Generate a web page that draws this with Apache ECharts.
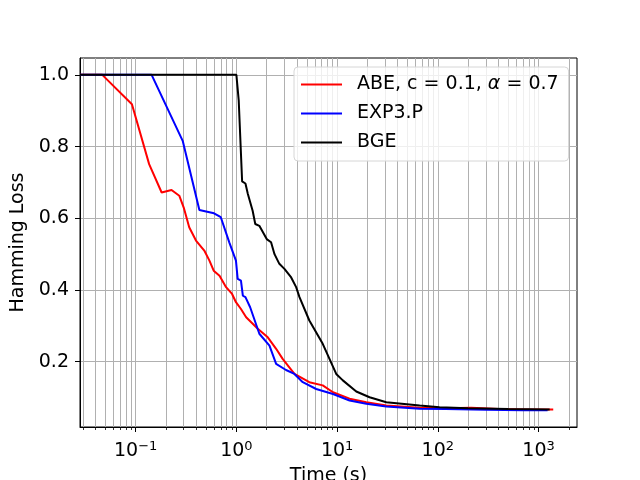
<!DOCTYPE html>
<html>
<head>
<meta charset="utf-8">
<script src="https://cdn.jsdelivr.net/npm/echarts@6/dist/echarts.min.js"></script>
<style>
  html, body { margin: 0; padding: 0; background: #fff; }
  #chart { width: 640px; height: 480px; }
</style>
</head>
<body>
<div id="chart"></div>
<script>
// values
var abeTime = [0.028, 0.0466, 0.0918, 0.136, 0.181, 0.227, 0.271, 0.30, 0.34, 0.397, 0.48, 0.54, 0.595, 0.68, 0.79, 0.906, 0.99, 1.11, 1.25, 1.63, 2.05, 2.48, 2.88, 3.77, 5.3, 7.2, 9.1, 13.3, 19.5, 30.8, 66, 120, 215, 400, 800, 1400];
var abeLoss = [1.0, 1.0, 0.918, 0.751, 0.672, 0.679, 0.663, 0.63, 0.575, 0.538, 0.51, 0.482, 0.454, 0.44, 0.408, 0.389, 0.366, 0.347, 0.324, 0.292, 0.268, 0.236, 0.208, 0.166, 0.143, 0.134, 0.115, 0.097, 0.087, 0.078, 0.072, 0.070, 0.072, 0.068, 0.067, 0.067];

var expTime = [0.028, 0.144, 0.293, 0.429, 0.50, 0.60, 0.70, 0.85, 0.99, 1.03, 1.11, 1.16, 1.23, 1.37, 1.69, 2.13, 2.48, 3.11, 3.77, 4.56, 6.2, 9.1, 13.3, 19.5, 30.8, 66, 120, 300, 700, 1230];
var expLoss = [1.0, 1.0, 0.816, 0.623, 0.619, 0.614, 0.603, 0.533, 0.482, 0.431, 0.426, 0.384, 0.38, 0.352, 0.278, 0.245, 0.194, 0.177, 0.166, 0.143, 0.124, 0.11, 0.092, 0.083, 0.075, 0.069, 0.068, 0.066, 0.065, 0.065];

var bgeTime = [0.028, 1.0, 1.055, 1.07, 1.14, 1.23, 1.30, 1.45, 1.54, 1.69, 2.0, 2.21, 2.39, 2.67, 3.0, 3.5, 3.92, 4.23, 5.3, 7.2, 9.8, 11.4, 15.5, 21, 30.8, 66, 104, 200, 500, 1290];
var bgeLoss = [1.0, 1.0, 0.928, 0.925, 0.703, 0.697, 0.668, 0.621, 0.584, 0.579, 0.542, 0.533, 0.50, 0.473, 0.459, 0.435, 0.408, 0.38, 0.315, 0.25, 0.166, 0.148, 0.117, 0.101, 0.087, 0.078, 0.073, 0.070, 0.068, 0.067];

var seriesNames = ['ABE, c = 0.1, α = 0.7', 'EXP3.P', 'BGE'];
var seriesColors = ['#ff0000', '#0000ff', '#000000'];

var xMajorTicks = [0.1, 1, 10, 100, 1000];
var xMinorTicks = [0.03, 0.04, 0.05, 0.06, 0.07, 0.08, 0.09,
  0.2, 0.3, 0.4, 0.5, 0.6, 0.7, 0.8, 0.9,
  2, 3, 4, 5, 6, 7, 8, 9,
  20, 30, 40, 50, 60, 70, 80, 90,
  200, 300, 400, 500, 600, 700, 800, 900, 2000];
var yTicks = [0.2, 0.4, 0.6, 0.8, 1.0];

var font = 'DejaVu Sans';
var fs = 19;
var gridGrey = '#b0b0b0';

function zip(xs, ys) {
  return xs.map(function (x, i) { return [x, ys[i]]; });
}

function supLabel(v) {
  var e = Math.round(Math.log10(v));
  return '10{sup|' + (e < 0 ? '\u2212' + (-e) : e) + '}';
}

var chart = echarts.init(document.getElementById('chart'), null, { renderer: 'canvas' });

var option = {
  backgroundColor: '#ffffff',
  animation: false,
  textStyle: { fontFamily: font },
  grid: {
    left: 80, right: 63, top: 58, bottom: 53,
    show: true, borderColor: '#000', borderWidth: 1,
    outerBoundsMode: 'none'
  },
  legend: {
    orient: 'vertical',
    left: 294, top: 67,
    padding: [7, 10, 8, 7],
    icon: 'rect',
    itemWidth: 41, itemHeight: 2, itemGap: 8,
    backgroundColor: 'rgba(255,255,255,0.8)',
    borderColor: '#d6d6d6', borderWidth: 1, borderRadius: 4,
    data: seriesNames,
    textStyle: {
      fontFamily: font, fontSize: fs, color: '#000', lineHeight: 21,
      padding: [0, 0, 0, 10],
      rich: { it: { fontFamily: font, fontSize: fs, fontStyle: 'italic', color: '#000' } }
    },
    formatter: function (name) {
      return name.replace('α', '{it|α}');
    }
  },
  xAxis: [{
    type: 'log', logBase: 10, min: 0.028, max: 2410,
    name: 'Time (s)', nameLocation: 'middle', nameGap: 39,
    nameTextStyle: { fontFamily: font, fontSize: fs, color: '#000' },
    axisLine: { show: true, lineStyle: { color: '#000', width: 1 } },
    axisTick: { show: true, length: 5, customValues: xMajorTicks, lineStyle: { color: '#000' } },
    axisLabel: {
      customValues: xMajorTicks, margin: 13, color: '#000',
      fontFamily: font, fontSize: fs, lineHeight: 22,
      formatter: supLabel,
      rich: { sup: { fontFamily: font, fontSize: 13, lineHeight: 13, verticalAlign: 'top', color: '#000' } }
    },
    splitLine: { show: true, lineStyle: { color: gridGrey, width: 1 } }
  }, {
    type: 'log', logBase: 10, min: 0.028, max: 2410, position: 'bottom',
    axisLine: { show: false },
    axisTick: { show: true, length: 3, customValues: xMinorTicks, lineStyle: { color: '#000', width: 0.8 } },
    axisLabel: { show: false },
    splitLine: { show: true, lineStyle: { color: gridGrey, width: 1 } }
  }],
  yAxis: {
    type: 'value', min: 0.018, max: 1.047,
    name: 'Hamming Loss', nameLocation: 'middle', nameGap: 43,
    nameTextStyle: { fontFamily: font, fontSize: fs, color: '#000' },
    axisLine: { show: true, lineStyle: { color: '#000', width: 1 } },
    axisTick: { show: true, length: 5, customValues: yTicks, lineStyle: { color: '#000' } },
    axisLabel: {
      customValues: yTicks, margin: 11, color: '#000', fontFamily: font, fontSize: fs,
      formatter: function (v) { return v.toFixed(1); }
    },
    splitLine: { show: true, lineStyle: { color: gridGrey, width: 1 } }
  },
  series: [
    { name: seriesNames[0], type: 'line', data: zip(abeTime, abeLoss) },
    { name: seriesNames[1], type: 'line', data: zip(expTime, expLoss) },
    { name: seriesNames[2], type: 'line', data: zip(bgeTime, bgeLoss) }
  ].map(function (s, i) {
    s.xAxisIndex = 0;
    s.symbol = 'none';
    s.color = seriesColors[i];
    s.itemStyle = { color: seriesColors[i] };
    s.lineStyle = { color: seriesColors[i], width: 2 };
    s.z = 3 + i;
    return s;
  })
};

chart.setOption(option);
</script>
</body>
</html>
